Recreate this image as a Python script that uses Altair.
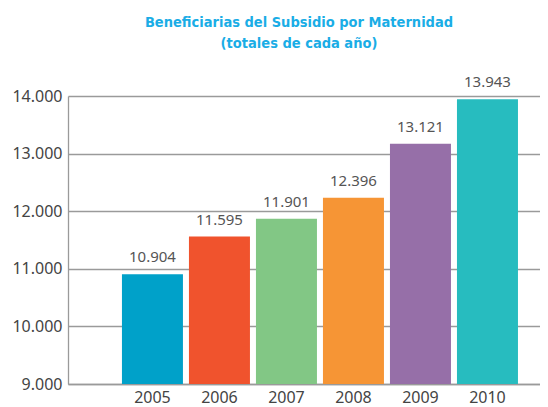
import altair as alt
import pandas as pd

years = ["2005", "2006", "2007", "2008", "2009", "2010"]
bar_values = [10904, 11560, 11870, 12235, 13170, 13943]
labels = ["10.904", "11.595", "11.901", "12.396", "13.121", "13.943"]
colors = ["#00A1C9", "#F0532D", "#82C785", "#F69535", "#966FA8", "#27BCBF"]
y_ticks = [9000, 10000, 11000, 12000, 13000, 14000]

df = pd.DataFrame({"year": years, "value": bar_values, "label": labels})

x = alt.X("year:N", sort=years,
          scale=alt.Scale(paddingInner=0.0896, paddingOuter=0.567, align=0.71),
          axis=alt.Axis(title=None, labelAngle=0, ticks=False, labelFontSize=16,
                        labelColor="#444444", labelFont="Noto Sans", labelPadding=5,
                        domainColor="#9a9a9a", domainWidth=1.3))
y = alt.Y("value:Q", scale=alt.Scale(domain=[9000, 14000], nice=False, zero=False),
          axis=alt.Axis(title=None, values=y_ticks, ticks=False, grid=True,
                        gridColor="#9a9a9a", gridWidth=1.3,
                        labelExpr="replace(format(datum.value, ','), ',', '.')",
                        labelFontSize=16, labelColor="#444444", labelFont="Noto Sans",
                        labelPadding=6, domainColor="#9a9a9a", domainWidth=1.3))

bars = alt.Chart(df).mark_bar(clip=True).encode(
    x=x, y=y, y2=alt.datum(9000),
    color=alt.Color("year:N", scale=alt.Scale(domain=years, range=colors), legend=None),
)
text = alt.Chart(df).mark_text(dy=-17, fontSize=15, font="Noto Sans", color="#555555").encode(
    x=alt.X("year:N", sort=years), y="value:Q", text="label:N"
)

chart = (bars + text).properties(
    width=472, height=288,
    autosize=alt.AutoSizeParams(type="none"),
    padding={"left": 60, "top": 88, "right": 0, "bottom": 23},
    title=alt.Title(["Beneficiarias del Subsidio por Maternidad", "(totales de cada año)"],
                    font="DejaVu Sans Condensed, Roboto Condensed, Liberation Sans",
                    fontSize=14.5, fontWeight="bold",
                    color="#1AADE6", anchor="middle", offset=24, lineHeight=21, dx=-5),
).configure_view(stroke=None)

chart.save("out.html", embed_options={"renderer": "svg", "actions": False})
